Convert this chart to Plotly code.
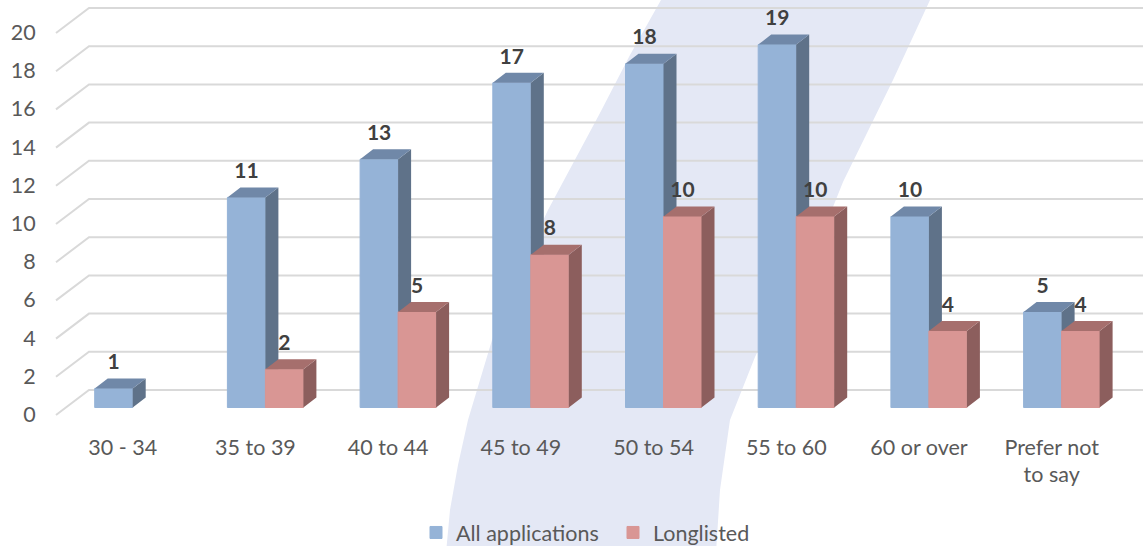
import plotly.graph_objects as go

categories = ["30 - 34", "35 to 39", "40 to 44", "45 to 49", "50 to 54", "55 to 60", "60 or over", "Prefer not<br>to say"]
all_applications = [1, 11, 13, 17, 18, 19, 10, 5]
longlisted = [None, 2, 5, 8, 10, 10, 4, 4]
y_ticks = list(range(0, 21, 2))

W, H = 1143, 553
PL, PR, PT, PB = 50, 1143, 0, 432      # plot box in px
CAT = 132.7                            # px per category
X0 = 132.7                             # px of first group centre
UNIT = 19.1                            # px per value unit
BASE = 407.5                           # px of value 0 on the bars' front
BAR = 38 / CAT
DX, DY = 13 / CAT, 10 / UNIT           # bar depth in axis units
WDX0, WDX1 = 56, 89                    # wall front/back x in px
FRONT_OFF = -7.5 / UNIT
BACK_OFF = 17.5 / UNIT
LABEL_OFF = 24.5 / UNIT

xrange = [(PL - X0) / CAT, (PR - X0) / CAT]
yrange = [(BASE - PB) / UNIT, (BASE - PT) / UNIT]
px_to_x = lambda p: (p - X0) / CAT


def faces(values, shift):
    side_x, side_y, top_x, top_y = [], [], [], []
    for i, v in enumerate(values):
        if v is None:
            continue
        l, r = i + shift - BAR / 2, i + shift + BAR / 2
        side_x += [r, r + DX, r + DX, r, r, None]
        side_y += [0, DY, v + DY, v, 0, None]
        top_x += [l, l + DX, r + DX, r, l, None]
        top_y += [v, v + DY, v + DY, v, v, None]
    return side_x, side_y, top_x, top_y


def poly(x, y, color, xa, ya):
    return go.Scatter(x=x, y=y, mode="lines", fill="toself", fillcolor=color,
                      line=dict(width=0), hoverinfo="skip", showlegend=False,
                      xaxis=xa, yaxis=ya)


fig = go.Figure()

# back wall and side wall gridlines
gx, gy = [], []
for v in y_ticks:
    gx += [px_to_x(WDX0), px_to_x(WDX1), px_to_x(PR), None]
    gy += [v + FRONT_OFF, v + BACK_OFF, v + BACK_OFF, None]
fig.add_trace(go.Scatter(x=gx, y=gy, mode="lines", line=dict(color="#D9D9D9", width=2),
                         hoverinfo="skip", showlegend=False, xaxis="x", yaxis="y"))

series = [
    ("All applications", all_applications, -BAR / 2, "#95B3D7", "#5F7289", "#7088A8", "x2", "y2"),
    ("Longlisted", longlisted, BAR / 2, "#D99694", "#8C5E5D", "#A66F6D", "x3", "y3"),
]
for name, vals, shift, front, side, top, xa, ya in series:
    fig.add_trace(go.Bar(x=[i + shift for i in range(len(vals))], y=vals, width=BAR, name=name,
                         marker=dict(color=front, line=dict(width=1, color=front)), xaxis=xa, yaxis=ya))
    sx, sy, tx, ty = faces(vals, shift)
    fig.add_trace(poly(sx, sy, side, xa, ya))
    fig.add_trace(poly(tx, ty, top, xa, ya))

# data labels
for name, vals, shift, *_ in series:
    idx = [i for i, v in enumerate(vals) if v is not None]
    fig.add_trace(go.Scatter(x=[i + shift for i in idx], y=[vals[i] + LABEL_OFF for i in idx],
                             text=[str(vals[i]) for i in idx], mode="text", textposition="middle center",
                             textfont=dict(family="Lato", size=21, color="#404040", weight="bold"),
                             hoverinfo="skip", showlegend=False, xaxis="x4", yaxis="y4"))

hidden = dict(visible=False, fixedrange=True)
dx = [PL / W, PR / W]
dy = [1 - PB / H, 1 - PT / H]
tick_font = dict(family="Lato", size=21.5, color="#595959")
fig.update_layout(
    width=W, height=H, margin=dict(l=0, r=0, t=0, b=0),
    paper_bgcolor="white", plot_bgcolor="rgba(0,0,0,0)", barmode="overlay",
    showlegend=True,
    legend=dict(orientation="h", x=416 / W, xanchor="left", y=0, yanchor="bottom",
                entrywidth=152, entrywidthmode="pixels",
                font=tick_font, bgcolor="rgba(0,0,0,0)", traceorder="normal"),
    xaxis=dict(domain=dx, range=xrange, tickmode="array",
               tickvals=[i - 0.075 for i in range(len(categories))], ticktext=categories,
               tickfont=tick_font, showgrid=False, zeroline=False, showline=False, ticks="", fixedrange=True),
    yaxis=dict(domain=dy, range=yrange, showgrid=False, zeroline=False, tickmode="array", tickvals=[],
               showline=False, fixedrange=True),
    xaxis2=dict(hidden, domain=dx, range=xrange, overlaying="x"),
    yaxis2=dict(hidden, domain=dy, range=yrange, overlaying="y"),
    xaxis3=dict(hidden, domain=dx, range=xrange, overlaying="x"),
    yaxis3=dict(hidden, domain=dy, range=yrange, overlaying="y"),
    xaxis4=dict(hidden, domain=dx, range=xrange, overlaying="x"),
    yaxis4=dict(hidden, domain=dy, range=yrange, overlaying="y"),
    # value axis labels sit on the front edge of the side wall
    yaxis5=dict(domain=dy, range=[(BASE + 7 - PB) / UNIT, (BASE + 7 - PT) / UNIT], overlaying="y",
                anchor="x", side="left", tickmode="array", tickvals=y_ticks, tickfont=tick_font,
                showgrid=False, zeroline=False, showline=False, ticks="outside", ticklen=9,
                tickcolor="rgba(0,0,0,0)", fixedrange=True),
)
# an invisible trace so the label axis is drawn
fig.add_trace(go.Scatter(x=[0], y=[0], mode="markers", marker=dict(opacity=0), hoverinfo="skip",
                         showlegend=False, xaxis="x", yaxis="y5"))

# decorative background swoosh
edge_left = [(446, 553), (450, 510), (458, 465), (468, 420), (492, 340), (520, 270), (548, 210), (600, 113), (630, 55), (661, 0)]
edge_right = [(930, 0), (893, 80), (843, 182), (833, 207), (790, 285), (755, 357), (730, 420), (720, 490), (716, 553)]
pts = edge_left + edge_right
path = "M " + " L ".join(f"{x / W:.5f},{1 - y / H:.5f}" for x, y in pts) + " Z"
fig.add_shape(type="path", path=path, xref="paper", yref="paper", fillcolor="#E4E8F5",
              line=dict(width=0), layer="below")

fig.write_html("out.html", config={"displayModeBar": False},
               post_script="document.body.style.margin='0';document.documentElement.style.overflow='hidden';")
